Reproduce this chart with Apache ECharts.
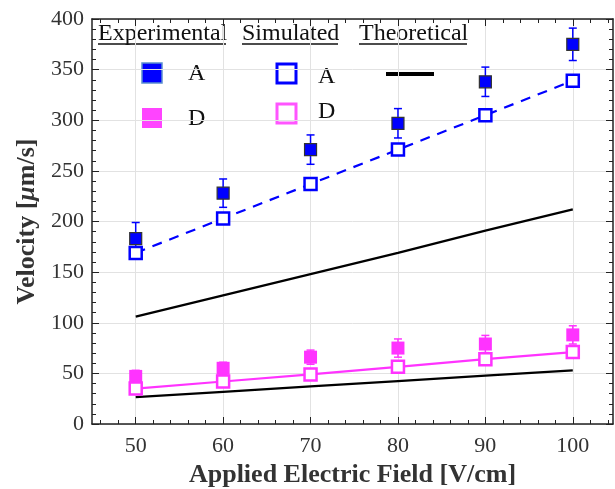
<!DOCTYPE html>
<html><head><meta charset="utf-8">
<script src="https://cdn.jsdelivr.net/npm/echarts@6/dist/echarts.min.js"></script>
<style>html,body{margin:0;padding:0;background:#fff}#c{width:615px;height:489px}</style>
</head><body><div id="c"></div>
<script>
const fields = [50, 60, 70, 80, 90, 100];
const expA = [183, 228, 271, 297, 338, 375];
const expAErr = [16, 14, 14.5, 14.5, 14.5, 16];
const expD = [47, 55, 66, 75, 79, 88];
const expDErr = [6, 6, 7, 9, 8.5, 9];
const simA = [169, 203, 237, 271, 305, 339];
const simD = [35, 42, 49, 56.5, 64, 71];
const theoA = [106, 127, 148, 169, 191, 212];
const theoD = [26.5, 31.8, 37.1, 42.4, 47.7, 53];
const xMajor = [50, 60, 70, 80, 90, 100];
const xMinor = [46, 48, 52, 54, 56, 58, 62, 64, 66, 68, 72, 74, 76, 78, 82, 84, 86, 88, 92, 94, 96, 98, 102, 104];

const BLUE = '#0000ff', MAG = '#ff33ff', FRAME = '#222', GRID = '#e2e2e2';
const SERIF = "'Liberation Serif', 'Times New Roman', Times, serif";

const pair = vals => fields.map((x, i) => [x, vals[i]]);

function errSeries(vals, errs, color) {
  return {
    type: 'custom', z: 2,
    data: fields.map((x, i) => [x, vals[i] - errs[i], vals[i] + errs[i]]),
    encode: { x: 0, y: [1, 2] },
    renderItem(params, api) {
      const x = api.value(0);
      const lo = api.coord([x, api.value(1)]);
      const hi = api.coord([x, api.value(2)]);
      const w = 4, st = { stroke: color, lineWidth: 1.5 };
      return { type: 'group', children: [
        { type: 'line', shape: { x1: lo[0], y1: lo[1], x2: hi[0], y2: hi[1] }, style: st },
        { type: 'line', shape: { x1: lo[0] - w, y1: lo[1], x2: lo[0] + w, y2: lo[1] }, style: st },
        { type: 'line', shape: { x1: hi[0] - w, y1: hi[1], x2: hi[0] + w, y2: hi[1] }, style: st }
      ]};
    }
  };
}

function xAx(pos, major) {
  return {
    type: 'value', min: 45, max: 104.6, position: pos, gridIndex: 0,
    axisLine: { show: major, onZero: false, lineStyle: { color: FRAME, width: 1.5 } },
    axisTick: { show: true, inside: true, length: major ? 7 : 4, customValues: major ? xMajor : xMinor, lineStyle: { color: FRAME, width: 1 } },
    axisLabel: pos === 'bottom' && major ? { customValues: xMajor, fontFamily: SERIF, fontSize: 22, color: '#333', margin: 11 } : { show: false },
    splitLine: pos === 'bottom' && major ? { show: true, lineStyle: { color: GRID, width: 1 } } : { show: false },
    minorTick: { show: false }
  };
}

const chart = echarts.init(document.getElementById('c'), null, { renderer: 'canvas' });
const xAxes = [xAx('bottom', true), xAx('bottom', false), xAx('top', true), xAx('top', false)];
xAxes[0].name = 'Applied Electric Field [V/cm]';
xAxes[0].nameLocation = 'middle';
xAxes[0].nameGap = 33;
xAxes[0].nameTextStyle = { fontFamily: SERIF, fontWeight: 'bold', fontSize: 26, color: '#333' };

function yAx(pos) {
  const left = pos === 'left';
  return {
    type: 'value', min: 0, max: 400, interval: 50, position: pos,
    axisLine: { show: true, onZero: false, lineStyle: { color: FRAME, width: 1.5 } },
    axisTick: { show: true, inside: true, length: 7, lineStyle: { color: FRAME } },
    minorTick: { show: true, splitNumber: 5, length: 4, lineStyle: { color: FRAME } },
    axisLabel: left ? { fontFamily: SERIF, fontSize: 22, color: '#333', margin: 8 } : { show: false },
    splitLine: left ? { show: true, lineStyle: { color: GRID, width: 1 } } : { show: false }
  };
}
const yAxes = [yAx('left'), yAx('right')];
yAxes[0].name = '{b|Velocity [}{i|\u03bc}{b|m/s]}';
yAxes[0].nameLocation = 'middle';
yAxes[0].nameGap = 47;
yAxes[0].nameRotate = 90;
yAxes[0].nameTextStyle = { rich: {
  b: { fontFamily: SERIF, fontWeight: 'bold', fontSize: 26, color: '#333' },
  i: { fontFamily: SERIF, fontWeight: 'bold', fontStyle: 'italic', fontSize: 26, color: '#333' }
}};

const txt = (x, y, s, size) => ({ type: 'text', x, y, style: { text: s, fontFamily: SERIF, fontSize: size || 24, fill: '#111', textVerticalAlign: 'middle' } });
const uline = (x1, x2, y) => ({ type: 'line', shape: { x1, y1: y, x2, y2: y }, style: { stroke: '#111', lineWidth: 1.3 } });

chart.setOption({
  animation: false,
  grid: { left: 92, right: 2, top: 19, bottom: 65, containLabel: false, outerBoundsMode: 'none' },
  xAxis: xAxes,
  yAxis: yAxes,
  series: [
    { type: 'line', data: pair(theoA), showSymbol: false, symbol: 'none', lineStyle: { color: '#000', width: 2.2 }, z: 1 },
    { type: 'line', data: pair(theoD), showSymbol: false, symbol: 'none', lineStyle: { color: '#000', width: 2.2 }, z: 1 },
    errSeries(expA, expAErr, BLUE),
    errSeries(expD, expDErr, MAG),
    { type: 'scatter', data: pair(expA), symbol: 'rect', symbolSize: 12, itemStyle: { color: BLUE, borderColor: '#333', borderWidth: 1.2, opacity: 1 }, z: 3 },
    { type: 'scatter', data: pair(expD), symbol: 'rect', symbolSize: 13, itemStyle: { color: MAG, opacity: 1 }, z: 3 },
    { type: 'line', data: pair(simA), symbol: 'rect', symbolSize: 12, showAllSymbol: true,
      lineStyle: { color: BLUE, width: 2.2, type: [10, 8] }, itemStyle: { color: '#fff', borderColor: BLUE, borderWidth: 2.5 }, z: 4 },
    { type: 'line', data: pair(simD), symbol: 'rect', symbolSize: 12, showAllSymbol: true,
      lineStyle: { color: MAG, width: 2.2 }, itemStyle: { color: '#fff', borderColor: MAG, borderWidth: 2.5 }, z: 4 }
  ],
  graphic: [
    txt(98, 34, 'Experimental'), uline(98, 226, 44),
    txt(242, 34, 'Simulated'), uline(242, 338, 44),
    txt(359, 34, 'Theoretical'), uline(359, 467, 44),
    { type: 'rect', shape: { x: 142, y: 63, width: 20, height: 20 }, style: { fill: BLUE, stroke: '#5b8fd0', lineWidth: 1.5 } },
    txt(188, 74, 'A'),
    { type: 'rect', shape: { x: 142, y: 108, width: 20, height: 20 }, style: { fill: '#ff44ff' } },
    txt(188, 119, 'D'),
    { type: 'rect', shape: { x: 277, y: 64, width: 19, height: 19 }, style: { fill: '#fff', stroke: BLUE, lineWidth: 3 } },
    txt(318, 77, 'A'),
    { type: 'rect', shape: { x: 277, y: 104, width: 19, height: 19 }, style: { fill: '#fff', stroke: '#ff55ff', lineWidth: 3 } },
    txt(318, 112, 'D'),
    { type: 'line', shape: { x1: 386, y1: 74, x2: 434, y2: 74 }, style: { stroke: '#000', lineWidth: 4 } }
  ]
});
</script></body></html>
